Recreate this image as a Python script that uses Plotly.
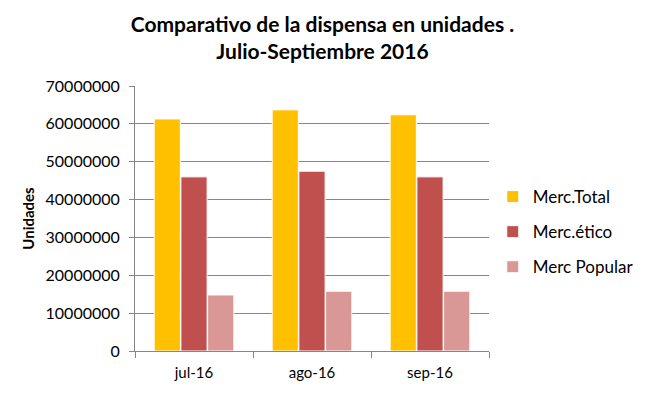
import plotly.graph_objects as go

categories = ["jul-16", "ago-16", "sep-16"]
merc_total = [61300000, 63700000, 62400000]
merc_etico = [46000000, 47500000, 46000000]
merc_popular = [14800000, 15800000, 15800000]
series_names = ["Merc.Total", "Merc.ético", "Merc Popular"]
colors = ["#FFC000", "#C0504D", "#D99795"]

fig = go.Figure()
for i, (name, vals) in enumerate(zip(series_names, [merc_total, merc_etico, merc_popular])):
    fig.add_trace(go.Bar(
        x=categories, y=vals, name=name, legendgroup=name,
        marker=dict(color=colors[i], line=dict(color="white", width=1)),
    ))

font_family = "Lato, 'Open Sans', sans-serif"
fig.update_layout(
    width=645, height=396,
    margin=dict(l=135, r=156, t=86, b=45, autoexpand=False),
    paper_bgcolor="white", plot_bgcolor="white",
    font=dict(family=font_family, size=15, color="#000000"),
    title=dict(
        text="<b>Comparativo de la dispensa en unidades .<br>Julio-Septiembre 2016</b>",
        x=0.5, xref="container", xanchor="center",
        y=1 - 32 / 396, yref="container", yanchor="middle",
        font=dict(size=21, family=font_family),
    ),
    barmode="group", bargap=0.32, bargroupgap=0.02,
    legend=dict(
        xref="container", yref="container",
        x=0.764, xanchor="left", y=1 - 232 / 396, yanchor="middle",
        traceorder="grouped", tracegroupgap=10,
        font=dict(size=17), itemwidth=30,
    ),
    showlegend=True,
)
fig.update_xaxes(
    showline=True, linecolor="#868686", linewidth=1,
    ticks="outside", tickson="boundaries", ticklen=6, tickcolor="#868686",
    tickfont=dict(size=15), ticklabelstandoff=8,
)
fig.update_yaxes(
    range=[0, 70000000], dtick=10000000, tickformat="d",
    showgrid=True, gridcolor="#868686", gridwidth=1,
    showline=True, linecolor="#868686", linewidth=1,
    ticks="outside", ticklen=5, tickcolor="#868686",
    tickfont=dict(size=16), zeroline=False, ticklabelstandoff=6,
    title=dict(text="<b>Unidades</b>", font=dict(size=15), standoff=7),
)
fig.write_html("out.html", post_script="document.body.style.margin='0';",
               config={"displayModeBar": False})
